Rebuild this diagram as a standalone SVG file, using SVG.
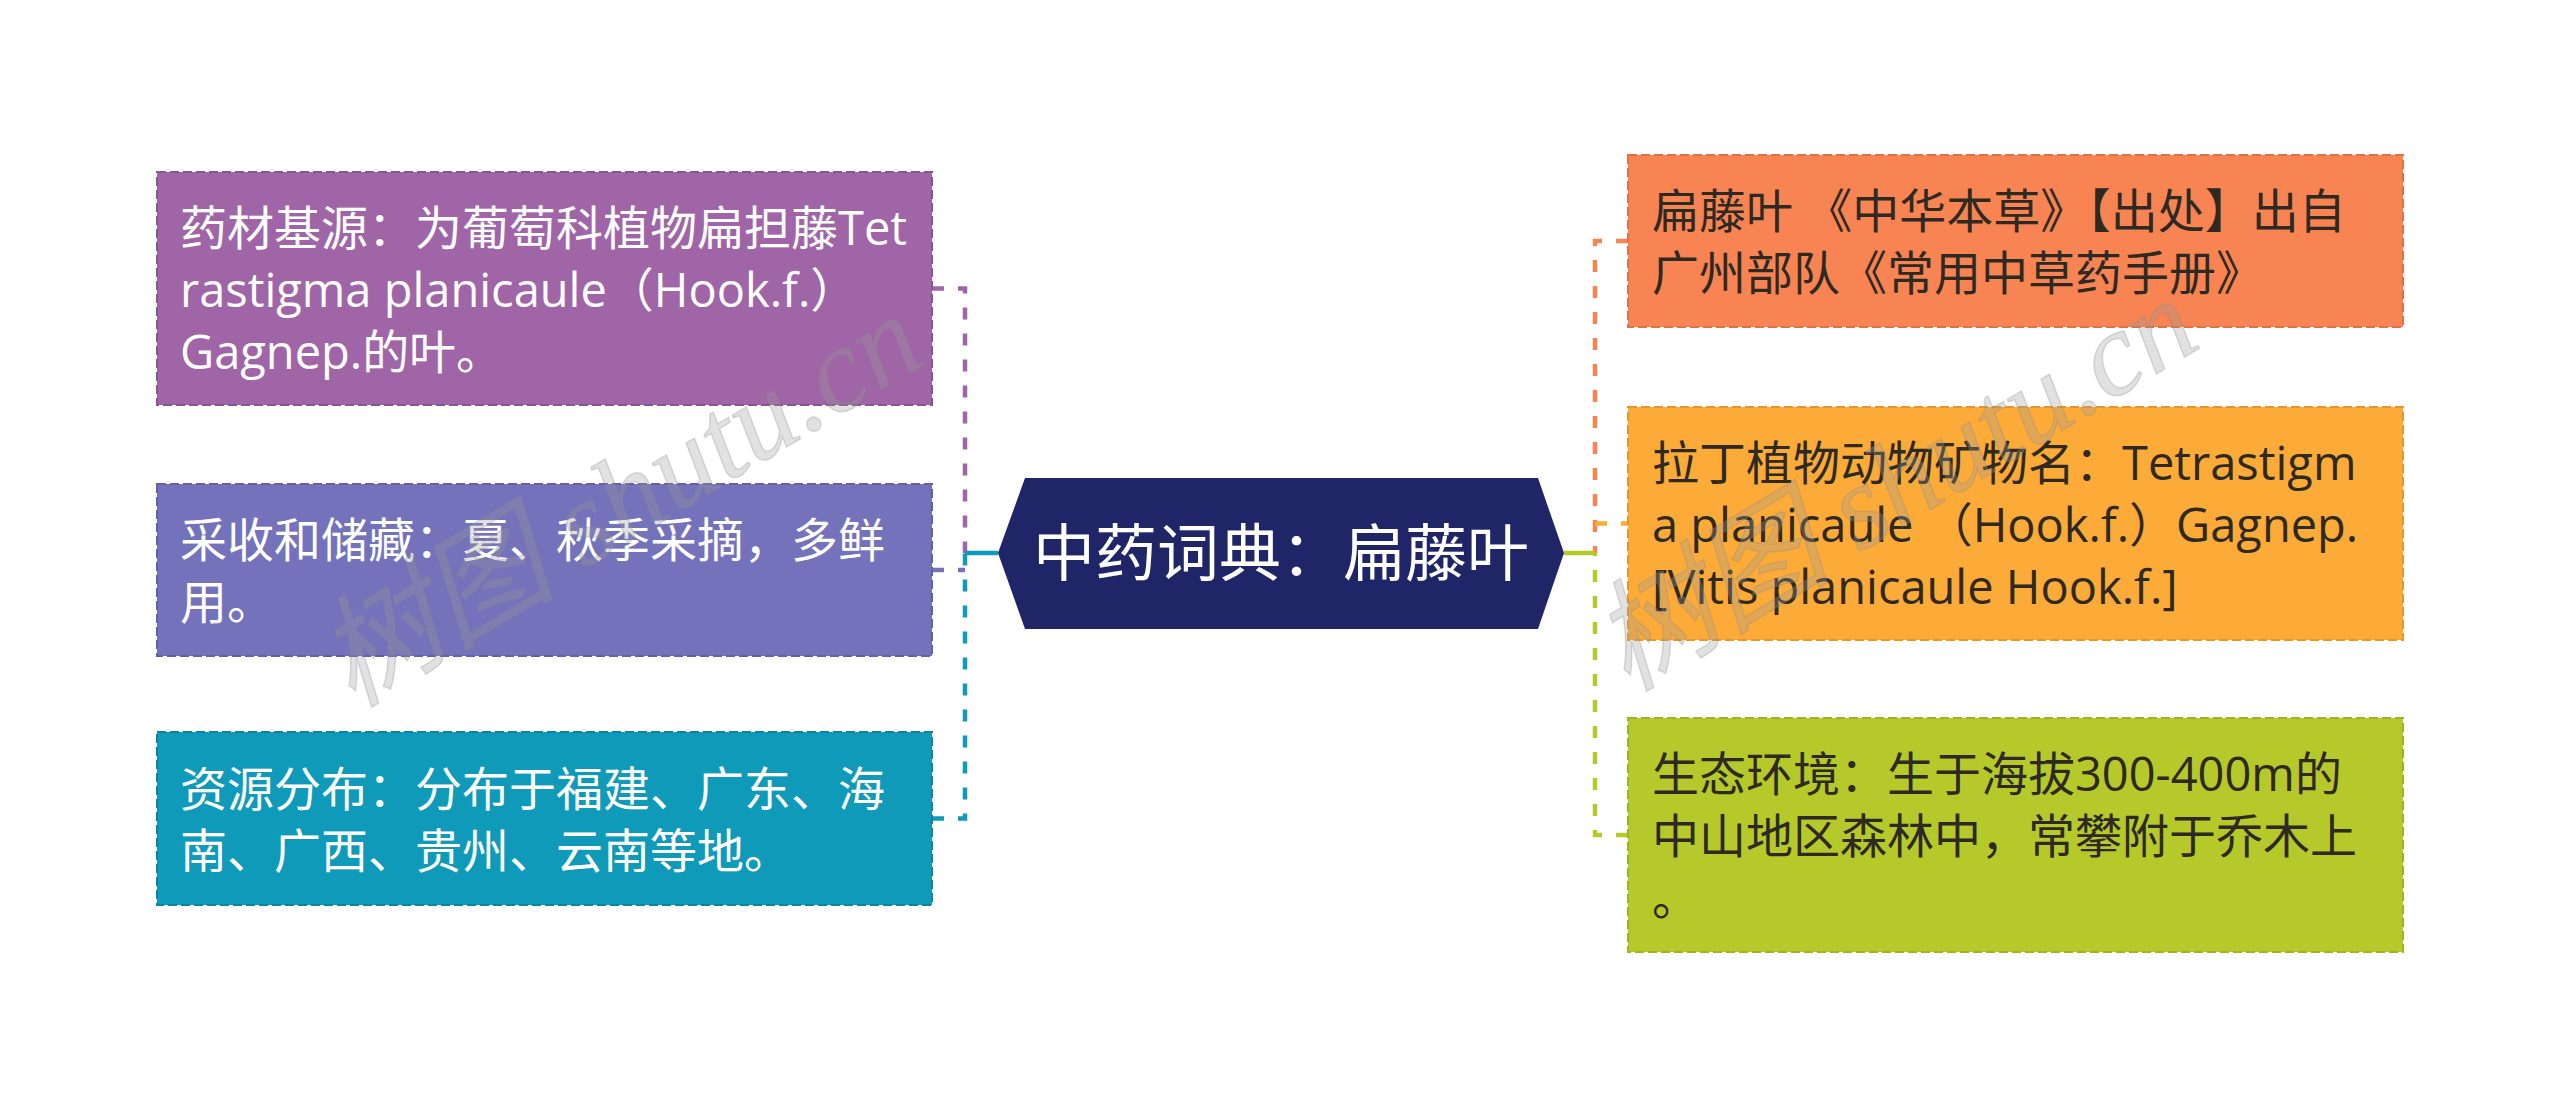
<svg xmlns="http://www.w3.org/2000/svg" width="2560" height="1108" viewBox="0 0 2560 1108">
<style>
.t{font-family:"Open Sans","Noto Sans CJK SC",sans-serif;font-size:47px}
.w{fill:#ffffff}
.d{fill:#2e2a22}
.box{stroke-width:2;stroke-dasharray:9 4}
.c{fill:none;stroke-width:4.5;stroke-dasharray:12 14}
.s{fill:none;stroke-width:4.5}
.wm{font-family:"Liberation Serif","Noto Sans CJK SC",serif;font-style:italic;font-size:120px;fill:#9a9a9a;fill-opacity:0.3;stroke:#888;stroke-opacity:0.28;stroke-width:1.5}
</style>
<rect width="2560" height="1108" fill="#ffffff"/>
<g id="connectors">
<path class="c" stroke="#9f65a7" d="M932 288.5H965V553"/>
<path class="c" stroke="#0e9ab8" d="M932 818.5H965V553"/>
<path class="c" stroke="#7472bb" d="M932 570H965"/>
<path class="s" stroke="#0e9ab8" d="M965 553H998"/>
<path class="c" stroke="#f88453" d="M1628 241H1595V553"/>
<path class="c" stroke="#b5c92a" d="M1628 835H1595V553"/>
<path class="c" stroke="#fdab38" d="M1595 523.5H1628"/>
<path class="s" stroke="#b5c92a" d="M1564 553H1595"/>
</g>
<g id="center">
<polygon points="998,553 1025,478 1538,478 1564,553 1538,629 1025,629" fill="#1f2566"/>
<text x="1281" y="576" text-anchor="middle" font-family="Open Sans,Noto Sans CJK SC,sans-serif" font-size="62" fill="#ffffff">中药词典：扁藤叶</text>
</g>
<g id="n1">
<rect class="box" x="157" y="172" width="775" height="233" fill="#9f65a7" stroke="#8a5393"/>
<text class="t w"><tspan x="180" y="245">药材基源：为葡萄科植物扁担藤Tet</tspan><tspan x="180" y="307">rastigma planicaule（Hook.f.）</tspan><tspan x="180" y="369">Gagnep.的叶。</tspan></text>
</g>
<g id="n2">
<rect class="box" x="157" y="484" width="775" height="172" fill="#7472bb" stroke="#6361a6"/>
<text class="t w"><tspan x="180" y="557">采收和储藏：夏、秋季采摘，多鲜</tspan><tspan x="180" y="619">用。</tspan></text>
</g>
<g id="n3">
<rect class="box" x="157" y="732" width="775" height="173" fill="#0e9ab8" stroke="#0a86a1"/>
<text class="t w"><tspan x="180" y="806">资源分布：分布于福建、广东、海</tspan><tspan x="180" y="868">南、广西、贵州、云南等地。</tspan></text>
</g>
<g id="n4">
<rect class="box" x="1628" y="155" width="775" height="172" fill="#f88453" stroke="#e27040"/>
<text class="t d"><tspan x="1652" y="228">扁藤叶 《中华本草》【出处】出自</tspan><tspan x="1652" y="290">广州部队《常用中草药手册》</tspan></text>
</g>
<g id="n5">
<rect class="box" x="1628" y="407" width="775" height="233" fill="#fdab38" stroke="#e89528"/>
<text class="t d"><tspan x="1652" y="480">拉丁植物动物矿物名：Tetrastigm</tspan><tspan x="1652" y="542">a planicaule （Hook.f.）Gagnep.</tspan><tspan x="1652" y="604">[Vitis planicaule Hook.f.]</tspan></text>
</g>
<g id="n6">
<rect class="box" x="1628" y="718" width="775" height="234" fill="#b5c92a" stroke="#a0b31e"/>
<text class="t d"><tspan x="1652" y="791">生态环境：生于海拔300-400m的</tspan><tspan x="1652" y="853">中山地区森林中，常攀附于乔木上</tspan><tspan x="1652" y="915">。</tspan></text>
</g>
<g id="watermark">
<text class="wm" transform="translate(352 708) rotate(-31)">树图 shutu.cn</text>
<text class="wm" transform="translate(1627 692) rotate(-31)">树图 shutu.cn</text>
</g>
</svg>
